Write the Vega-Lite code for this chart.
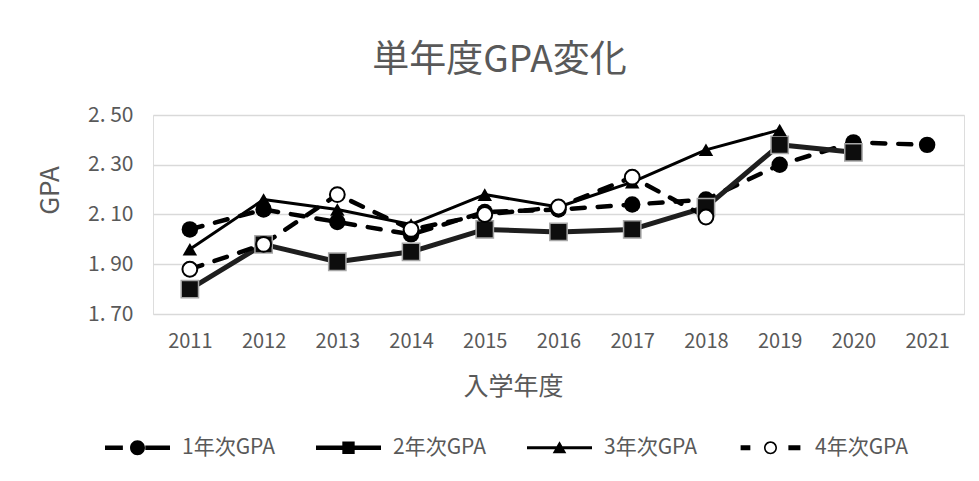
{
  "$schema": "https://vega.github.io/schema/vega-lite/v6.json",
  "autosize": "none",
  "width": 811,
  "height": 199,
  "padding": {"left": 153, "top": 115, "right": 15, "bottom": 167},
  "background": "white",
  "title": {
    "text": "単年度GPA変化",
    "font": "Noto Sans CJK JP",
    "fontSize": 37,
    "fontWeight": "normal",
    "color": "#595959",
    "anchor": "middle",
    "dx": -59,
    "offset": 24
  },
  "data": {
    "values": [
      {"year": "2011", "series": "1年次GPA", "gpa": 2.04},
      {"year": "2012", "series": "1年次GPA", "gpa": 2.12},
      {"year": "2013", "series": "1年次GPA", "gpa": 2.07},
      {"year": "2014", "series": "1年次GPA", "gpa": 2.02},
      {"year": "2015", "series": "1年次GPA", "gpa": 2.11},
      {"year": "2016", "series": "1年次GPA", "gpa": 2.12},
      {"year": "2017", "series": "1年次GPA", "gpa": 2.14},
      {"year": "2018", "series": "1年次GPA", "gpa": 2.16},
      {"year": "2019", "series": "1年次GPA", "gpa": 2.30},
      {"year": "2020", "series": "1年次GPA", "gpa": 2.39},
      {"year": "2021", "series": "1年次GPA", "gpa": 2.38},
      {"year": "2011", "series": "2年次GPA", "gpa": 1.80},
      {"year": "2012", "series": "2年次GPA", "gpa": 1.98},
      {"year": "2013", "series": "2年次GPA", "gpa": 1.91},
      {"year": "2014", "series": "2年次GPA", "gpa": 1.95},
      {"year": "2015", "series": "2年次GPA", "gpa": 2.04},
      {"year": "2016", "series": "2年次GPA", "gpa": 2.03},
      {"year": "2017", "series": "2年次GPA", "gpa": 2.04},
      {"year": "2018", "series": "2年次GPA", "gpa": 2.13},
      {"year": "2019", "series": "2年次GPA", "gpa": 2.38},
      {"year": "2020", "series": "2年次GPA", "gpa": 2.35},
      {"year": "2011", "series": "3年次GPA", "gpa": 1.96},
      {"year": "2012", "series": "3年次GPA", "gpa": 2.16},
      {"year": "2013", "series": "3年次GPA", "gpa": 2.12},
      {"year": "2014", "series": "3年次GPA", "gpa": 2.06},
      {"year": "2015", "series": "3年次GPA", "gpa": 2.18},
      {"year": "2016", "series": "3年次GPA", "gpa": 2.13},
      {"year": "2017", "series": "3年次GPA", "gpa": 2.23},
      {"year": "2018", "series": "3年次GPA", "gpa": 2.36},
      {"year": "2019", "series": "3年次GPA", "gpa": 2.44},
      {"year": "2011", "series": "4年次GPA", "gpa": 1.88},
      {"year": "2012", "series": "4年次GPA", "gpa": 1.98},
      {"year": "2013", "series": "4年次GPA", "gpa": 2.18},
      {"year": "2014", "series": "4年次GPA", "gpa": 2.04},
      {"year": "2015", "series": "4年次GPA", "gpa": 2.10},
      {"year": "2016", "series": "4年次GPA", "gpa": 2.13},
      {"year": "2017", "series": "4年次GPA", "gpa": 2.25},
      {"year": "2018", "series": "4年次GPA", "gpa": 2.09}
    ]
  },
  "encoding": {
    "x": {
      "field": "year",
      "type": "ordinal",
      "scale": {"type": "point", "padding": 0.5},
      "axis": {
        "title": "入学年度",
        "titleFont": "Noto Sans CJK JP",
        "titleFontSize": 25,
        "titleFontWeight": "normal",
        "titleColor": "#595959",
        "titleX": 360,
        "titleY": 72,
        "titleBaseline": "middle",
        "titleAnchor": "middle",
        "labelFont": "Noto Sans CJK JP",
        "labelFontSize": 20,
        "labelColor": "#595959",
        "labelAngle": 0,
        "labelPadding": 17,
        "domain": false,
        "ticks": false,
        "grid": false
      }
    },
    "y": {
      "field": "gpa",
      "type": "quantitative",
      "scale": {"domain": [1.7, 2.5], "zero": false, "nice": false},
      "axis": {
        "title": "GPA",
        "titleFont": "Noto Sans CJK JP",
        "titleFontSize": 26,
        "titleFontWeight": "normal",
        "titleColor": "#595959",
        "titleAngle": -90,
        "titleX": -103,
        "titleY": 75,
        "titleBaseline": "middle",
        "titleAlign": "center",
        "values": [1.7, 1.9, 2.1, 2.3, 2.5],
        "labelExpr": "replace(format(datum.value, '.2f'), '.', '. ')",
        "labelFont": "Noto Sans CJK JP",
        "labelFontSize": 21,
        "labelColor": "#595959",
        "labelPadding": 20,
        "domain": false,
        "ticks": false,
        "grid": true,
        "gridColor": "#d9d9d9",
        "gridWidth": 1.5
      }
    }
  },
  "layer": [
    {
      "transform": [{"filter": "datum.series === '1年次GPA'"}],
      "mark": {"type": "line", "color": "#000000", "strokeWidth": 4.5, "strokeDash": [13, 13], "strokeCap": "round", "strokeJoin": "round"}
    },
    {
      "transform": [{"filter": "datum.series === '2年次GPA'"}],
      "mark": {"type": "line", "color": "#1e1e1e", "strokeWidth": 5, "strokeJoin": "round"}
    },
    {
      "transform": [{"filter": "datum.series === '3年次GPA'"}],
      "mark": {"type": "line", "color": "#000000", "strokeWidth": 3, "strokeJoin": "round"}
    },
    {
      "transform": [{"filter": "datum.series === '4年次GPA'"}],
      "mark": {"type": "line", "color": "#000000", "strokeWidth": 4.5, "strokeDash": [13, 13], "strokeCap": "round", "strokeJoin": "round"}
    },
    {
      "transform": [{"filter": "datum.series === '1年次GPA'"}],
      "mark": {"type": "point", "shape": "circle", "filled": true, "fill": "#000000", "stroke": "#000000", "strokeWidth": 0, "size": 270, "opacity": 1}
    },
    {
      "transform": [{"filter": "datum.series === '2年次GPA'"}],
      "mark": {"type": "point", "shape": "square", "filled": true, "fill": "#0d0d0d", "stroke": "#a6a6a6", "strokeWidth": 1.5, "size": 300, "opacity": 1}
    },
    {
      "transform": [{"filter": "datum.series === '3年次GPA'"}],
      "mark": {"type": "point", "shape": "triangle-up", "filled": true, "fill": "#000000", "strokeWidth": 0, "size": 210, "opacity": 1}
    },
    {
      "transform": [{"filter": "datum.series === '4年次GPA'"}],
      "mark": {"type": "point", "shape": "circle", "filled": true, "fill": "#ffffff", "stroke": "#000000", "strokeWidth": 2, "size": 220, "opacity": 1}
    },
    {
      "mark": {"type": "point", "filled": true, "color": "#000000", "opacity": 0},
      "encoding": {
        "shape": {
          "field": "series",
          "type": "nominal",
          "scale": {
            "domain": ["1年次GPA", "2年次GPA", "3年次GPA", "4年次GPA"],
            "range": [
              "M-1,-0.07L-0.45,-0.07L-0.45,0.07L-1,0.07Z M0.24,-0.07L1,-0.07L1,0.07L0.24,0.07Z M-0.23,0A0.23,0.23 0 1,1 0.23,0A0.23,0.23 0 1,1 -0.23,0Z",
              "M-1,-0.07L-0.19,-0.07L-0.19,-0.19L0.19,-0.19L0.19,-0.07L1,-0.07L1,0.07L0.19,0.07L0.19,0.19L-0.19,0.19L-0.19,0.07L-1,0.07Z",
              "M-1,-0.045L-0.088,-0.045L0,-0.2L0.088,-0.045L1,-0.045L1,0.045L0.139,0.045L0.21,0.17L-0.21,0.17L-0.139,0.045L-1,0.045Z",
              "M-0.92,-0.075L-0.62,-0.075L-0.62,0.075L-0.92,0.075Z M0.55,-0.075L0.92,-0.075L0.92,0.075L0.55,0.075Z M-0.2,0A0.2,0.2 0 1,1 0.2,0A0.2,0.2 0 1,1 -0.2,0Z M-0.15,0A0.15,0.15 0 1,0 0.15,0A0.15,0.15 0 1,0 -0.15,0Z"
            ]
          },
          "legend": {
            "orient": "none",
            "legendX": -48,
            "legendY": 300,
            "direction": "horizontal",
            "columns": 4,
            "title": null,
            "symbolSize": 4225,
            "symbolStrokeWidth": 0,
            "symbolOpacity": 1,
            "symbolFillColor": "#000000",
            "labelFont": "Noto Sans CJK JP",
            "labelFontSize": 21,
            "labelColor": "#595959",
            "labelOffset": 12,
            "columnPadding": 40
          }
        }
      }
    }
  ]
}
